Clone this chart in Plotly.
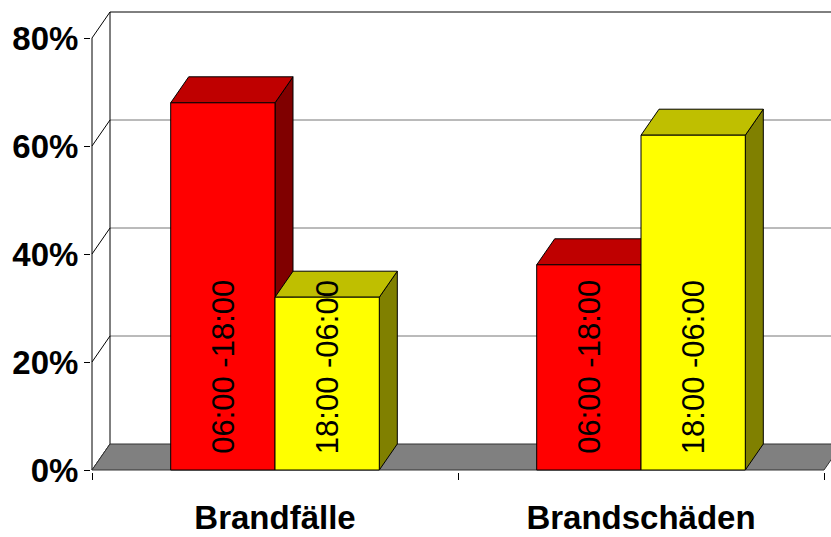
import plotly.graph_objects as go

# ---- data ----
categories = ["Brandfälle", "Brandschäden"]
series_names = ["06:00 -18:00", "18:00 -06:00"]
day_values = [68, 38]      # 06:00 - 18:00
night_values = [32, 62]    # 18:00 - 06:00
y_ticks = [0, 20, 40, 60, 80]
y_tick_labels = ["0%", "20%", "40%", "60%", "80%"]

# ---- style ----
front_colors = ["#FF0000", "#FFFF00"]
top_colors = ["#BF0000", "#BFBF00"]
side_colors = ["#800000", "#808000"]
BAR_W = 0.285          # bar width in category units
DX = 18 / 366          # 3D depth offset (x, category units)
DY = 26 / 5.4          # 3D depth offset (y, value units)
YMAX = 80
FONT = "Liberation Sans, Arial, sans-serif"

fig = go.Figure()


def poly(xs, ys, fill, line="black", width=1):
    fig.add_trace(go.Scatter(
        x=xs + [xs[0]], y=ys + [ys[0]], mode="lines", fill="toself",
        fillcolor=fill, line=dict(color=line, width=width),
        hoverinfo="skip", showlegend=False))


def line(xs, ys, color="black", width=1):
    fig.add_trace(go.Scatter(
        x=xs, y=ys, mode="lines", line=dict(color=color, width=width),
        hoverinfo="skip", showlegend=False))


x_left = -0.5
x_right = len(categories) - 0.5

# back wall gridlines
for v in y_ticks[1:]:
    col = "black" if v == YMAX else "#767676"
    line([x_left + DX, x_right + DX + 0.2], [v + DY, v + DY], color=col)
# back-wall left edge
line([x_left + DX, x_left + DX], [DY, YMAX + DY])
# left wall: front edge and diagonals
line([x_left, x_left], [0, YMAX])
for v in y_ticks:
    line([x_left, x_left + DX], [v, v + DY], color="black")

# floor
poly([x_left, x_right, x_right + DX, x_left + DX], [0, 0, DY, DY], "#808080", line="#333333")

# bars (3D boxes)
series = [day_values, night_values]
for ci in range(len(categories)):
    for si, vals in enumerate(series):
        v = vals[ci]
        x0 = ci - BAR_W + si * BAR_W
        x1 = x0 + BAR_W
        # side face
        poly([x1, x1, x1 + DX, x1 + DX], [0, v, v + DY, DY], side_colors[si])
        # top face
        poly([x0, x1, x1 + DX, x0 + DX], [v, v, v + DY, v + DY], top_colors[si])
        # front face
        poly([x0, x1, x1, x0], [0, 0, v, v], front_colors[si])
        fig.add_annotation(
            x=(x0 + x1) / 2, y=0, xref="x", yref="y", text=series_names[si],
            textangle=-90, showarrow=False, yanchor="bottom", xanchor="center",
            yshift=14, font=dict(family=FONT, size=31, color="black"))

fig.update_layout(
    width=831, height=537,
    margin=dict(l=91, r=0, t=0, b=65),
    paper_bgcolor="white", plot_bgcolor="white",
    showlegend=False,
    xaxis=dict(
        range=[x_left - 1 / 366, x_left + 739 / 366],
        tickvals=list(range(len(categories))), ticktext=categories,
        ticks="", showgrid=False, zeroline=False, showline=False,
        tickfont=dict(family=FONT, size=33, color="black", weight="bold"),
        ticklabelstandoff=23, automargin=False,
        minor=dict(tickvals=[x_left + i for i in range(len(categories) + 1)],
                   ticks="outside", ticklen=7, tickcolor="black", tickwidth=1,
                   showgrid=False),
        fixedrange=True,
    ),
    yaxis=dict(
        range=[-2 / 5.4, 470 / 5.4],
        tickvals=y_ticks, ticktext=y_tick_labels,
        ticks="outside", ticklen=6, tickcolor="black",
        showgrid=False, zeroline=False, showline=False,
        tickfont=dict(family=FONT, size=33, color="black", weight="bold"),
        ticklabelstandoff=-1, automargin=False,
        fixedrange=True,
    ),
)

fig.write_html(
    "out.html",
    config={"displayModeBar": False},
    post_script="document.body.style.margin='0';document.body.style.overflow='hidden';",
)
